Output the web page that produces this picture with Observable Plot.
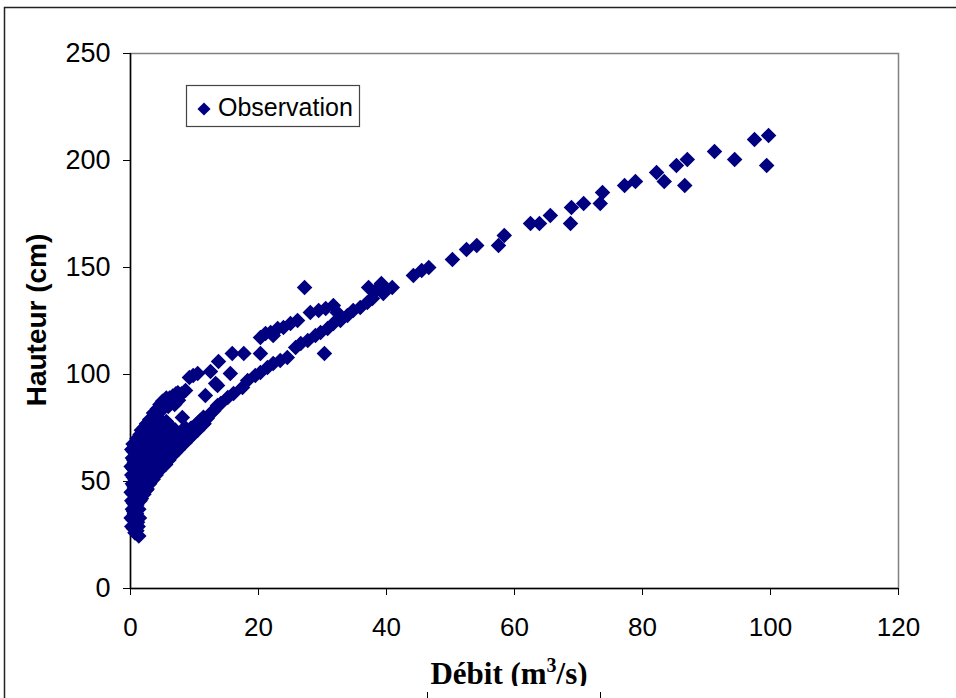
<!DOCTYPE html>
<html>
<head>
<meta charset="utf-8">
<script src="https://cdn.jsdelivr.net/npm/d3@7"></script>
<script src="https://cdn.jsdelivr.net/npm/@observablehq/plot@0.6"></script>
<style>
html,body{margin:0;padding:0;background:#fff;}
#chart{position:relative;width:956px;height:698px;overflow:hidden;background:#fff;}
</style>
</head>
<body>
<div id="chart"></div>
<script>
// ---- Tick labels ----
const xTicks = [0, 20, 40, 60, 80, 100, 120];
const yTicks = [0, 50, 100, 150, 200, 250];

// ---- Texts ----
const serieLabel = "Observation";
const yTitle = "Hauteur (cm)";
const xTitleMain = "Débit (m";
const xTitleSup = "3";
const xTitleEnd = "/s)";

// ---- Observations: low-flow dense cluster (Q < 13 m3/s) ----
const debitEtiage = [
  0.2,0.1,0.3,0.2,0.1,0.3,0.2,0.1,0.3,0.2,
  0.7,0.8,0.6,0.7,0.8,0.6,0.7,0.9,0.6,0.8,0.7,
  1.3,1.2,1.4,1.3,1.5,1.2,1.4,1.3,1.5,1.2,1.4,1.3,1.5,
  2.1,2.0,2.2,2.1,2.3,2.0,2.2,2.1,2.3,
  2.6,3.0,3.5,2.9,3.1,3.0,3.2,2.9,3.1,3.0,
  4.0,3.9,4.1,4.0,4.2,3.9,4.1,4.0,4.2,
  5.0,4.9,5.1,5.0,5.2,4.9,5.1,5.0,
  6.0,5.9,6.1,6.0,6.2,5.9,6.1,
  7.0,6.9,7.1,7.0,6.9,7.1,
  8.0,7.9,8.1,8.1,8.0,8.6,
  9.0,9.1,9.4,9.2,9.8,
  10.0,10.2,10.5,
  11.0,10.9,11.7,
  12.0,12.5,12.5
];
const hauteurEtiage = [
  29,33,37,41,45,49,53,57,61,65,
  26,31,35,39,43,47,51,55,59,63,67,
  24.5,29,33,37,41,45,49,53,57,61,65,69,72,
  44,48,52,56,60,64,68,72,75.5,
  46.5,49,51,53,57,61,65,69,75,79,
  53,57,61,65,69,73,77,81,84,
  57,61,65,69,73,77,84,87.5,
  60,64,68,72,76,85,89,
  63.5,67,71,74,86,91,
  67,70.5,74,79.9,91,92.5,
  70,73.5,74.8,98.6,99.5,
  73,76.5,100.5,
  76,78.5,90.2,
  79.5,81.8,101.4
];
// second set of low-flow readings (interleaved with the first)
const debitEtiage2 = [
  0.45,0.4,0.5,0.45,0.4,0.5,0.45,0.4,0.5,0.45,0.4,
  1.0,1.1,0.95,1.0,1.1,0.95,1.0,1.1,0.95,1.0,1.1,1.0,
  1.7,1.8,1.6,1.7,1.8,1.6,1.7,1.8,1.7,
  2.5,2.6,2.4,2.5,2.6,2.4,2.5,2.6,2.5,
  3.5,3.4,3.6,3.5,3.4,3.6,3.5,3.4,3.6,
  4.5,4.4,4.6,4.5,4.4,4.6,4.5,4.4,4.6,
  5.5,5.4,5.6,5.5,5.4,5.6,5.5,5.6,
  6.5,6.4,6.6,6.5,6.4,6.6,
  7.5,7.4,7.6,7.5,7.4,
  8.5,8.4,8.6,
  9.5,9.6,
  10.5,10.6,
  11.5,11.4
];
const hauteurEtiage2 = [
  28,32,36,40,44,48,52,56,60,64,67.5,
  27,31,35,39,43,47,51,55,59,63,67,70,
  42,46,50,54,58,62,66,70,74,
  46,50,54,58,62,66,70,74,77,
  51,55,59,63,67,71,75,79,82,
  55,59,63,67,71,75,79,83,86,
  58,62,66,70,74,78,86,89,
  62,66,70,74,87,90,
  65,69,72,88,91.5,
  68,72,75,
  71,75,
  74,77.5,
  77,80
];

// ---- Lower branch (13 - 41 m3/s) ----
const debitBasse = [13.0,13.6,14.1,15.2,16.1,17.5,18.3,19.5,20.3,21.4,22.3,23.4,24.5,25.8,26.6,27.7,28.9,29.7,30.8,31.7,32.8,33.9,34.8,35.9,37.0,37.8,39.5,40.9];
const hauteurBasse = [83,85.5,86.4,89.3,91.1,93.9,97.2,99.5,100.9,103.3,105.1,106.5,107.9,112.6,114.5,115.9,118.2,119.6,121.5,123.8,125.2,127.6,129.9,131.3,133.6,135.5,137.9,140.7];

// ---- Upper branch (13 - 32 m3/s) ----
const debitHaute = [13.3,13.6,15.6,13.75,15.9,17.7,20.3,20.3,21.1,21.9,22.3,23.0,23.9,25.0,26.1,28.1,29.4,30.5,31.7,32.3,27.2,30.3];
const hauteurHaute = [95.8,94.9,100.5,106.1,109.8,109.8,109.8,117.3,119.2,119.6,118.2,121.5,122.0,123.8,125.2,129.0,129.9,130.8,132.2,129.0,140.7,109.8];

// ---- High flows (> 37 m3/s) ----
const debitCrue = [37.2,38.3,39.2,44.2,45.5,46.6,50.3,52.5,54.1,57.5,58.4,62.5,63.9,65.6,68.75,68.9,70.8,73.4,73.75,77.2,78.9,82.2,83.4,86.6,85.3,87.0,91.25,94.4,97.5,99.7,99.4];
const hauteurCrue = [140.7,139.3,142.5,146.3,148.6,150.0,153.7,158.4,160.3,160.3,165.0,170.6,170.6,174.3,170.6,178.0,179.9,179.9,185.0,188.3,190.2,194.4,190.2,188.3,197.7,200.5,204.2,200.5,209.8,211.7,197.7];

const toRows = (qs, hs) => qs.map((q, i) => ({q, h: hs[i]}));
const data = [
  ...toRows(debitEtiage, hauteurEtiage),
  ...toRows(debitEtiage2, hauteurEtiage2),
  ...toRows(debitBasse, hauteurBasse),
  ...toRows(debitHaute, hauteurHaute),
  ...toRows(debitCrue, hauteurCrue)
];

const navy = "#000080";
const W = 956, H = 698;
const mL = 130, mR = 58, mT = 53, mB = 110;

const svgPlot = Plot.plot({
  width: W,
  height: H,
  marginLeft: mL,
  marginRight: mR,
  marginTop: mT,
  marginBottom: mB,
  style: {fontFamily: "'Liberation Sans', Arial, sans-serif", background: "#fff", color: "#000", overflow: "visible"},
  x: {domain: [0, 120], axis: null},
  y: {domain: [0, 250], axis: null},
  marks: [
    Plot.frame({stroke: "#808080", strokeWidth: 1.5}),
    Plot.axisX({ticks: xTicks, tickSize: 7, tickPadding: 22, fontSize: 26, label: null, tickFormat: d => String(d)}),
    Plot.axisY({ticks: yTicks, tickSize: 7, tickPadding: 13, fontSize: 27, label: null, tickFormat: d => String(d)}),
    Plot.ruleX([0], {stroke: "#000", strokeWidth: 1.5}),
    Plot.ruleY([0], {stroke: "#000", strokeWidth: 1.5}),
    Plot.dot(data, {x: "q", y: "h", symbol: "diamond2", r: 7, fill: navy, stroke: "none"})
  ]
});

document.getElementById("chart").appendChild(svgPlot);
const svg = d3.select(svgPlot);

// Y axis title
svg.append("text")
  .attr("transform", "translate(36,320) rotate(-90)")
  .attr("text-anchor", "middle")
  .attr("dy", "0.35em")
  .attr("font-family", "'Liberation Sans', Arial, sans-serif")
  .attr("font-weight", "bold")
  .attr("font-size", 28)
  .attr("fill", "#000")
  .text(yTitle);

// X axis title
const xt = svg.append("text")
  .attr("x", 509)
  .attr("y", 684)
  .attr("text-anchor", "middle")
  .attr("font-family", "'Liberation Serif', 'Times New Roman', serif")
  .attr("font-weight", "bold")
  .attr("font-size", 31)
  .attr("fill", "#000");
xt.append("tspan").text(xTitleMain);
xt.append("tspan").attr("font-size", 20).attr("dy", -12).text(xTitleSup);
xt.append("tspan").attr("dy", 12).text(xTitleEnd);

// bottom clipping of the frame as in the reference
svg.append("rect").attr("x", 100).attr("y", 686).attr("width", 820).attr("height", 12).attr("fill", "#fff");
svg.append("line").attr("x1", 427.5).attr("x2", 427.5).attr("y1", 692).attr("y2", 698).attr("stroke", "#000").attr("stroke-width", 1);
svg.append("line").attr("x1", 600.5).attr("x2", 600.5).attr("y1", 692).attr("y2", 698).attr("stroke", "#000").attr("stroke-width", 1);

// Outer border (left and top)
svg.append("path")
  .attr("d", `M4.5,${H} L4.5,7.5 L${W},7.5`)
  .attr("fill", "none")
  .attr("stroke", "#222")
  .attr("stroke-width", 1.5);

// Legend
const lg = svg.append("g").attr("text-anchor", "start");
lg.append("rect")
  .attr("x", 186.5).attr("y", 85.5).attr("width", 173).attr("height", 41)
  .attr("fill", "#fff").attr("stroke", "#444").attr("stroke-width", 1.2);
lg.append("path")
  .attr("transform", "translate(204,109)")
  .attr("d", d3.symbol(d3.symbolDiamond2, 110)())
  .attr("fill", navy);
lg.append("text")
  .attr("x", 218).attr("y", 116)
  .attr("text-anchor", "start")
  .attr("font-family", "'Liberation Sans', Arial, sans-serif")
  .attr("font-size", 25)
  .attr("fill", "#000")
  .text(serieLabel);
</script>
</body>
</html>
